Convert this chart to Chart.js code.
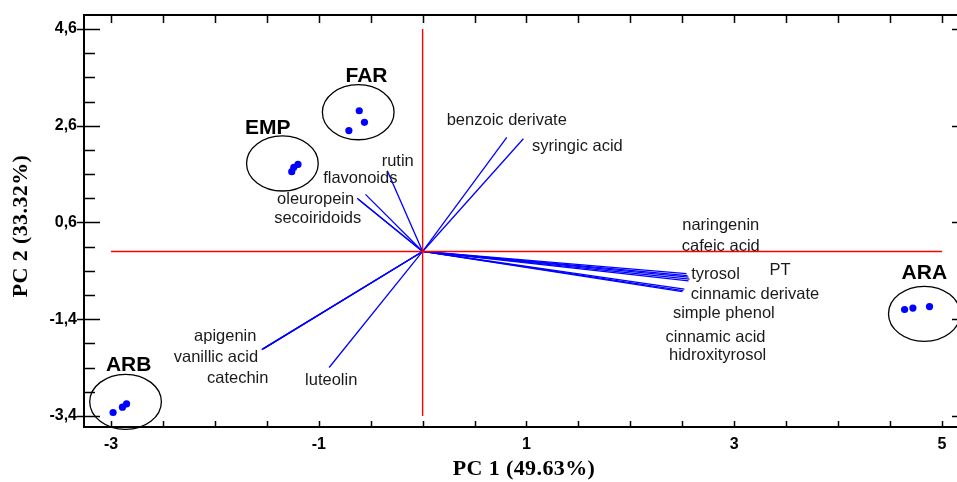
<!DOCTYPE html>
<html>
<head>
<meta charset="utf-8">
<script src="https://cdn.jsdelivr.net/npm/chart.js@4.4.1/dist/chart.umd.min.js"></script>
<style>
  html, body { margin: 0; padding: 0; background: #fff; overflow: hidden; }
  #wrap { width: 957px; height: 482px; position: relative; }
</style>
</head>
<body>
<div id="wrap"><canvas id="pca"></canvas></div>
<script>
// Axis ticks (every 0.5, labels only on the majors)
const xTickValues = [-3, -2.5, -2, -1.5, -1, -0.5, 0, 0.5, 1, 1.5, 2, 2.5, 3, 3.5, 4, 4.5, 5];
const xMajor = [-3, -1, 1, 3, 5];
const xMajorLabels = ['-3', '-1', '1', '3', '5'];
const yTickValues = [-3.4, -2.9, -2.4, -1.9, -1.4, -0.9, -0.4, 0.1, 0.6, 1.1, 1.6, 2.1, 2.6, 3.1, 3.6, 4.1, 4.6];
const yMajor = [-3.4, -1.4, 0.6, 2.6, 4.6];
const yMajorLabels = ['-3,4', '-1,4', '0,6', '2,6', '4,6'];

// Loadings (vector end points) and where their names sit
const variables = ['benzoic derivate', 'syringic acid', 'rutin', 'flavonoids', 'oleuropein', 'secoiridoids',
  'naringenin', 'cafeic acid', 'tyrosol', 'PT', 'cinnamic derivate', 'simple phenol', 'cinnamic acid', 'hidroxityrosol',
  'apigenin', 'vanillic acid', 'catechin', 'luteolin'];
const loadX = [0.81, 0.97, -0.34, -0.55, -0.63, -0.62, 2.54, 2.55, 2.56, 2.57, 2.56, 2.52, 2.51, 2.50, -1.54, -1.53, -1.55, -0.90];
const loadY = [2.36, 2.33, 1.67, 1.18, 1.10, 1.08, -0.46, -0.50, -0.53, -0.57, -0.61, -0.78, -0.81, -0.83, -2.02, -2.01, -2.03, -2.40];
const labelX = [0.81, 1.49, -0.24, -0.60, -1.03, -1.01, 2.87, 2.87, 2.82, 3.44, 3.20, 2.90, 2.82, 2.84, -1.90, -1.99, -1.78, -0.88];
const labelY = [2.71, 2.17, 1.86, 1.51, 1.07, 0.68, 0.54, 0.10, -0.48, -0.39, -0.89, -1.28, -1.78, -2.15, -1.76, -2.19, -2.62, -2.67];

// Sample scores per group
const groups = ['FAR', 'EMP', 'ARB', 'ARA'];
const scoreX = [[-0.61, -0.56, -0.71], [-1.20, -1.24, -1.26], [-2.98, -2.89, -2.85], [4.64, 4.72, 4.88]];
const scoreY = [[2.91, 2.67, 2.50], [1.80, 1.74, 1.65], [-3.33, -3.22, -3.15], [-1.20, -1.17, -1.14]];
const ellipseX = [-0.62, -1.35, -2.86, 4.83];
const ellipseY = [2.88, 1.82, -3.11, -1.29];
const groupLabelX = [-0.54, -1.49, -2.83, 4.83];
const groupLabelY = [3.62, 2.54, -2.36, -0.45];

const datasets = [];
// reference cross
datasets.push({ data: [{x: 0, y: -3.4}, {x: 0, y: 4.6}], showLine: true, borderColor: '#ff0000', borderWidth: 1.4, pointRadius: 0 });
datasets.push({ data: [{x: -3, y: 0}, {x: 5, y: 0}], showLine: true, borderColor: '#ff0000', borderWidth: 1.4, pointRadius: 0 });
// loading vectors
variables.forEach((v, i) => {
  datasets.push({ data: [{x: 0, y: 0}, {x: loadX[i], y: loadY[i]}], showLine: true,
    borderColor: '#0000ff', borderWidth: 1.3, pointRadius: 0 });
});
// scores
const pts = [];
groups.forEach((g, i) => scoreX[i].forEach((x, j) => pts.push({x: x, y: scoreY[i][j]})));
datasets.push({ data: pts, showLine: false, backgroundColor: '#0000ff', borderWidth: 0, pointRadius: 3.6 });

const decor = {
  id: 'decor',
  afterDatasetsDraw(chart) {
    const ctx = chart.ctx, xs = chart.scales.x, ys = chart.scales.y, a = chart.chartArea;
    const edge = chart.width; // frame runs off the right side of the picture
    ctx.save();
    // group ellipses
    ctx.strokeStyle = '#000';
    ctx.lineWidth = 1.3;
    groups.forEach((g, i) => {
      const cx = xs.getPixelForValue(ellipseX[i]), cy = ys.getPixelForValue(ellipseY[i]);
      const rx = xs.getPixelForValue(ellipseX[i] + 0.345) - cx;
      const ry = cy - ys.getPixelForValue(ellipseY[i] + 0.57);
      ctx.beginPath();
      ctx.ellipse(cx, cy, rx, ry, 0, 0, Math.PI * 2);
      ctx.stroke();
    });
    ctx.fillStyle = '#000';
    ctx.textAlign = 'center';
    ctx.textBaseline = 'middle';
    ctx.font = 'bold 21px "Liberation Sans", Arial, sans-serif';
    groups.forEach((g, i) => ctx.fillText(g, xs.getPixelForValue(groupLabelX[i]), ys.getPixelForValue(groupLabelY[i])));
    ctx.fillStyle = '#1a1a1a';
    ctx.font = '16.5px "Liberation Sans", Arial, sans-serif';
    variables.forEach((v, i) => ctx.fillText(v, xs.getPixelForValue(labelX[i]), ys.getPixelForValue(labelY[i])));

    // frame: top, left, bottom
    ctx.strokeStyle = '#000';
    ctx.lineWidth = 2;
    ctx.beginPath();
    ctx.moveTo(edge, a.top); ctx.lineTo(a.left, a.top); ctx.lineTo(a.left, a.bottom); ctx.lineTo(edge, a.bottom);
    ctx.stroke();
    ctx.lineWidth = 1.5;
    ctx.beginPath();
    xTickValues.forEach(v => {
      const px = Math.round(xs.getPixelForValue(v)) + 0.5;
      ctx.moveTo(px, a.top); ctx.lineTo(px, a.top + 8);
      ctx.moveTo(px, a.bottom); ctx.lineTo(px, a.bottom - 6);
    });
    yTickValues.forEach(v => {
      const py = Math.round(ys.getPixelForValue(v)) + 0.5;
      if (yMajor.includes(v)) {
        ctx.moveTo(a.left - 7, py); ctx.lineTo(a.left + 16, py);
        ctx.moveTo(edge - 5, py); ctx.lineTo(edge, py);
      } else {
        ctx.moveTo(a.left, py); ctx.lineTo(a.left + 11, py);
      }
    });
    ctx.stroke();

    // axis titles
    ctx.fillStyle = '#000';
    ctx.font = 'bold 22px "Liberation Serif", "Times New Roman", serif';
    ctx.letterSpacing = '0.4px';
    ctx.fillText('PC 1 (49.63%)', 524, 469);
    ctx.translate(21, 226);
    ctx.rotate(-Math.PI / 2);
    ctx.fillText('PC 2 (33.32%)', 0, 0);
    ctx.restore();
  }
};

new Chart(document.getElementById('pca'), {
  type: 'scatter',
  data: { datasets: datasets },
  options: {
    responsive: true,
    maintainAspectRatio: false,
    animation: false,
    layout: { padding: { top: 15, left: 0, right: 0, bottom: 0 } },
    plugins: { legend: { display: false }, tooltip: { enabled: false } },
    scales: {
      x: {
        type: 'linear', min: -3.26, max: 5.106,
        grid: { display: false, drawTicks: false }, border: { display: false },
        afterBuildTicks: s => { s.ticks = xTickValues.map(v => ({value: v})); },
        afterFit: s => { s.height = 55; },
        ticks: {
          autoSkip: false, maxRotation: 0, padding: 8, color: '#000',
          font: { family: '"Liberation Sans", Arial, sans-serif', size: 16, weight: 'bold' },
          callback: v => { const k = xMajor.indexOf(v); return k >= 0 ? xMajorLabels[k] : ''; }
        }
      },
      y: {
        type: 'linear', min: -3.63, max: 4.89,
        grid: { display: false, drawTicks: false }, border: { display: false },
        afterBuildTicks: s => { s.ticks = yTickValues.map(v => ({value: v})); },
        afterFit: s => { s.width = 84; s.paddingTop = 0; s.paddingBottom = 0; },
        ticks: {
          autoSkip: false, padding: 7, color: '#000',
          font: { family: '"Liberation Sans", Arial, sans-serif', size: 16, weight: 'bold' },
          callback: v => { const k = yMajor.indexOf(v); return k >= 0 ? yMajorLabels[k] : ''; }
        }
      }
    }
  },
  plugins: [decor]
});
</script>
</body>
</html>
